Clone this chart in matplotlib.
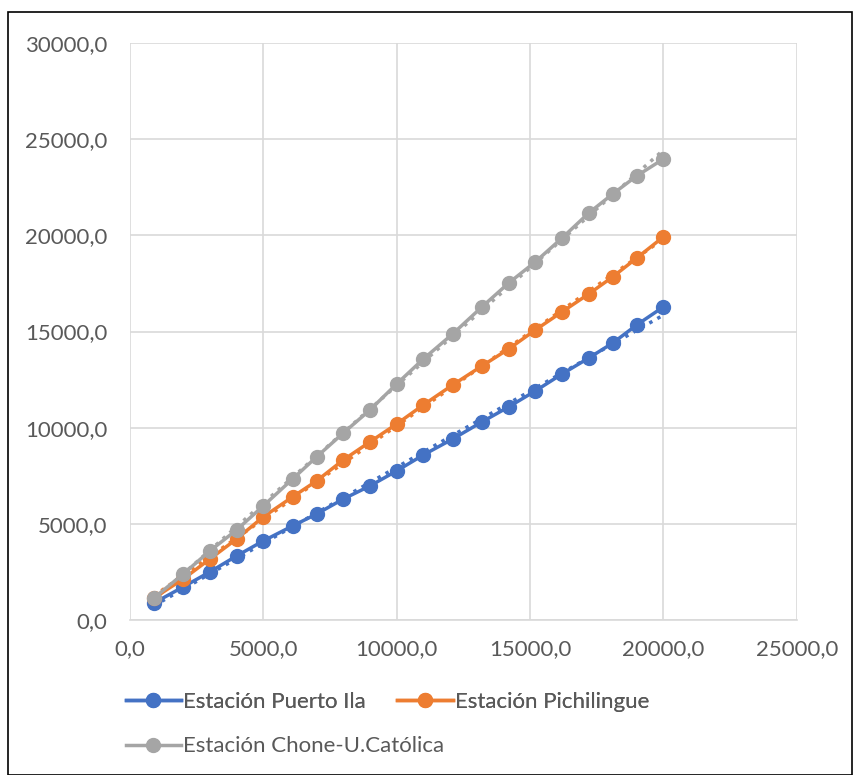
import numpy as np
import matplotlib.pyplot as plt
from matplotlib.patches import Rectangle

# datos
x_vals = [900, 2000, 3000, 4000, 5000, 6100, 7000, 8000, 9000, 10000,
          11000, 12100, 13200, 14200, 15200, 16200, 17200, 18100, 19000, 20000]
puerto_ila = [880, 1720, 2500, 3330, 4110, 4890, 5510, 6290, 6970, 7750,
              8580, 9410, 10300, 11080, 11910, 12790, 13620, 14400, 15340, 16280]
pichilingue = [1140, 2130, 3170, 4210, 5360, 6400, 7230, 8320, 9260, 10190,
               11180, 12220, 13210, 14090, 15080, 16020, 16950, 17840, 18820, 19920]
chone = [1140, 2390, 3590, 4680, 5930, 7330, 8480, 9720, 10920, 12270,
         13570, 14870, 16280, 17520, 18620, 19860, 21160, 22150, 23090, 23970]

names = ['Estación Puerto Ila', 'Estación Pichilingue', 'Estación Chone-U.Católica']
colors = ['#4472C4', '#ED7D31', '#A5A5A5']
series = [puerto_ila, pichilingue, chone]

plt.rcParams['font.family'] = ['Lato', 'DejaVu Sans']
txt = '#595959'
fs = 16

fig = plt.figure(figsize=(8.54, 7.75), dpi=100)
ax = fig.add_axes([0.152, 0.2, 0.781, 0.7445])

x = np.array(x_vals)
handles = []
for ys, c, n in zip(series, colors, names):
    ys = np.array(ys)
    h, = ax.plot(x, ys, '-o', color=c, lw=2.5, ms=10, label=n, zorder=3)
    handles.append(h)
    # linea de tendencia lineal
    m, b = np.polyfit(x, ys, 1)
    ax.plot(x, m*x + b, ':', color=c, lw=2.5, zorder=2)

ax.set_xlim(0, 25000)
ax.set_ylim(0, 30000)
ax.set_xticks(np.arange(0, 25001, 5000))
ax.set_yticks(np.arange(0, 30001, 5000))
ax.set_xticklabels([f'{v:.1f}'.replace('.', ',') for v in ax.get_xticks()])
ax.set_yticklabels([f'{v:.1f}'.replace('.', ',') for v in ax.get_yticks()])
ax.grid(True, color='#D9D9D9', lw=1.2)
ax.set_axisbelow(True)
for s in ['top', 'right', 'left']:
    ax.spines[s].set_visible(False)
ax.spines['bottom'].set_color('#D9D9D9')
ax.spines['bottom'].set_linewidth(1.2)
ax.tick_params(length=0, labelsize=fs, colors=txt)
ax.tick_params(axis='y', pad=16)
ax.tick_params(axis='x', pad=14)

# leyenda en dos filas (como en Excel)
leg1 = fig.legend(handles[:2], names[:2], ncol=2, loc='center left',
                  bbox_to_anchor=(0.134, 0.094), frameon=False, fontsize=fs,
                  handlelength=2.5, handletextpad=0.1, columnspacing=1.4,
                  borderpad=0, labelcolor=txt)
leg2 = fig.legend(handles[2:], names[2:], loc='center left',
                  bbox_to_anchor=(0.134, 0.037), frameon=False, fontsize=fs,
                  handlelength=2.5, handletextpad=0.1, borderpad=0,
                  labelcolor=txt)
fig.add_artist(leg1)

fig.patches.append(Rectangle((0.009, 0.0), 0.989, 0.984, transform=fig.transFigure,
                             fill=False, edgecolor='black', lw=1.2))

fig.savefig('out.png', dpi=100)
